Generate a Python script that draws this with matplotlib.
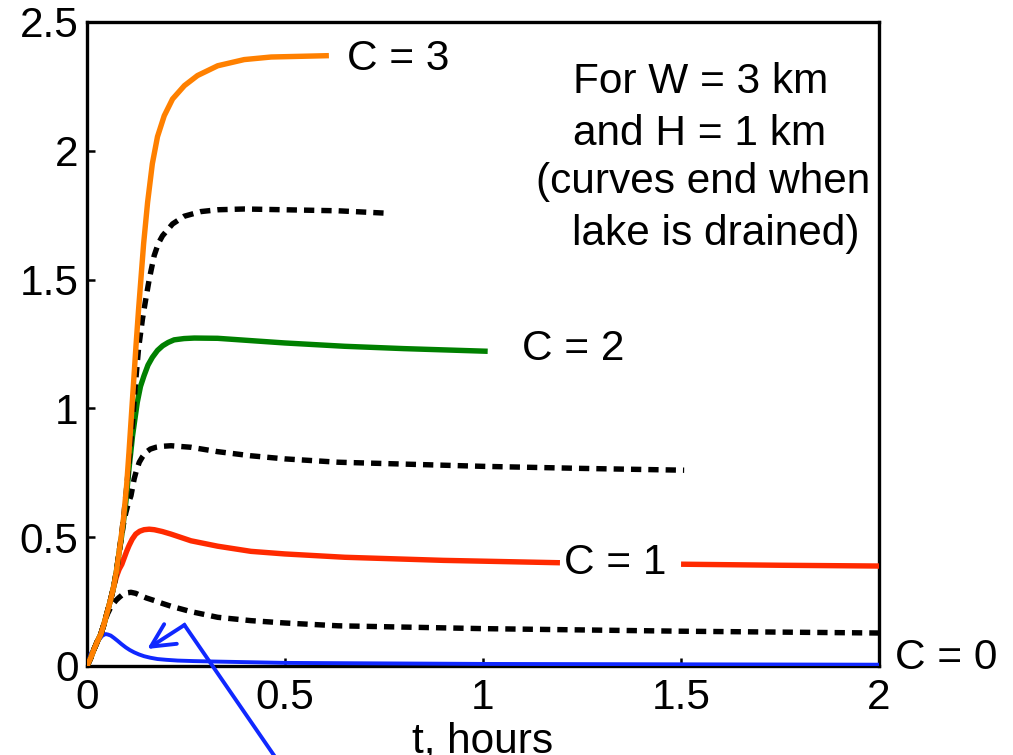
import numpy as np
from matplotlib import pyplot as plt

plt.rcParams['font.family'] = ['Liberation Sans', 'DejaVu Sans']

# C = 3 (orange)
t_c3 = [0, 0.009, 0.018, 0.026, 0.035, 0.043, 0.051, 0.06, 0.068, 0.075, 0.081, 0.087, 0.092, 0.096, 0.100, 0.106, 0.112,
        0.118, 0.124, 0.130, 0.136, 0.143, 0.153, 0.165, 0.178, 0.195, 0.216, 0.246, 0.279, 0.33, 0.397, 0.465, 0.604]
v_c3 = [0, 0.03, 0.066, 0.095, 0.124, 0.163, 0.208, 0.26, 0.312, 0.375, 0.441, 0.51, 0.571, 0.635, 0.70, 0.83, 0.97,
        1.11, 1.25, 1.38, 1.50, 1.64, 1.80, 1.95, 2.055, 2.136, 2.201, 2.253, 2.292, 2.330, 2.354, 2.364, 2.369]

# dashed between C = 3 and C = 2
t_d25 = [0, 0.009, 0.018, 0.026, 0.035, 0.043, 0.051, 0.06, 0.068, 0.075, 0.081, 0.087, 0.092, 0.100, 0.107, 0.115,
         0.122, 0.130, 0.140, 0.1485, 0.157, 0.1696, 0.18, 0.1907, 0.216, 0.2456, 0.2878, 0.33, 0.397, 0.5, 0.634, 0.752]
v_d25 = [0, 0.03, 0.066, 0.095, 0.124, 0.163, 0.208, 0.26, 0.312, 0.375, 0.441, 0.51, 0.571, 0.69, 0.81, 0.95,
         1.09, 1.23, 1.347, 1.425, 1.50, 1.593, 1.64, 1.670, 1.716, 1.746, 1.764, 1.771, 1.774, 1.771, 1.767, 1.758]

# C = 2 (green)
t_c2 = [0, 0.009, 0.018, 0.026, 0.035, 0.043, 0.051, 0.06, 0.068, 0.075, 0.081, 0.087, 0.092, 0.098, 0.106, 0.115,
        0.127, 0.135, 0.144, 0.154, 0.165, 0.178, 0.191, 0.205, 0.220, 0.245, 0.271, 0.33, 0.414, 0.499, 0.651, 0.8, 1.005]
v_c2 = [0, 0.03, 0.066, 0.095, 0.124, 0.163, 0.208, 0.26, 0.312, 0.375, 0.441, 0.50, 0.56, 0.635, 0.765, 0.894,
        1.024, 1.085, 1.127, 1.168, 1.198, 1.225, 1.243, 1.256, 1.266, 1.271, 1.273, 1.272, 1.263, 1.254, 1.241, 1.232, 1.222]

# dashed between C = 2 and C = 1
t_d15 = [0, 0.009, 0.018, 0.026, 0.035, 0.043, 0.051, 0.06, 0.068, 0.075, 0.081, 0.087, 0.092, 0.098, 0.104, 0.111,
         0.119, 0.125, 0.132, 0.14, 0.1485, 0.16, 0.174, 0.192, 0.212, 0.2625, 0.33, 0.414, 0.499, 0.634, 1.0, 1.25, 1.508]
v_d15 = [0, 0.03, 0.066, 0.095, 0.124, 0.163, 0.208, 0.26, 0.312, 0.375, 0.441, 0.50, 0.55, 0.595, 0.63, 0.661,
         0.726, 0.76, 0.791, 0.812, 0.829, 0.842, 0.849, 0.853, 0.855, 0.849, 0.832, 0.816, 0.804, 0.791, 0.775, 0.767, 0.76]

# C = 1 (red), broken where the label sits
t_c1 = [0, 0.009, 0.018, 0.026, 0.035, 0.043, 0.051, 0.06, 0.068, 0.075, 0.081, 0.088, 0.094, 0.1, 0.106, 0.114,
        0.123, 0.133, 0.144, 0.157, 0.170, 0.19, 0.212, 0.2625, 0.33, 0.414, 0.499, 0.651, 0.9, 1.1875,
        1.19, 1.505, 1.507, 1.75, 2.0]
v_c1 = [0, 0.03, 0.066, 0.095, 0.124, 0.163, 0.208, 0.26, 0.312, 0.35, 0.375, 0.395, 0.42, 0.445, 0.467, 0.492,
        0.512, 0.523, 0.529, 0.531, 0.529, 0.522, 0.512, 0.486, 0.465, 0.445, 0.435, 0.422, 0.41, 0.401,
        np.nan, np.nan, 0.395, 0.391, 0.388]

# dashed between C = 1 and C = 0
t_d05 = [0, 0.009, 0.018, 0.026, 0.035, 0.043, 0.051, 0.059, 0.067, 0.074, 0.081, 0.088, 0.094, 0.102, 0.111, 0.123,
         0.136, 0.150, 0.170, 0.19, 0.212, 0.2625, 0.33, 0.414, 0.499, 0.634, 1.0, 1.5, 2.0]
v_d05 = [0, 0.03, 0.066, 0.095, 0.124, 0.163, 0.2, 0.225, 0.243, 0.256, 0.266, 0.275, 0.28, 0.284, 0.286, 0.282,
         0.273, 0.264, 0.254, 0.243, 0.232, 0.211, 0.189, 0.176, 0.167, 0.156, 0.145, 0.135, 0.128]

# C = 0 (blue)
t_c0 = [0, 0.009, 0.018, 0.026, 0.033, 0.039, 0.047, 0.053, 0.060, 0.068, 0.077, 0.087, 0.098, 0.108, 0.119, 0.131,
        0.144, 0.16, 0.178, 0.2, 0.229, 0.27, 0.33, 0.5, 1.0, 2.0]
v_c0 = [0, 0.047, 0.07, 0.092, 0.107, 0.118, 0.124, 0.122, 0.118, 0.109, 0.098, 0.085, 0.072, 0.062, 0.053, 0.045,
        0.038, 0.032, 0.027, 0.024, 0.021, 0.019, 0.017, 0.012, 0.008, 0.005]

fs = 30.5
blue = '#1028ff'
dash = (0, (1.9, 1.3))

fig = plt.figure(figsize=(10.13, 7.55), dpi=100)
ax = fig.add_axes([0.0859, 0.1179, 0.7818, 0.8530])

ax.plot(t_c0, v_c0, color=blue, lw=2.8, zorder=3)
ax.plot(t_d05, v_d05, color='black', lw=3.9, ls=dash, zorder=3)
ax.plot(t_c1, v_c1, color='#ff2a00', lw=3.9, zorder=3)
ax.plot(t_d15, v_d15, color='black', lw=3.9, ls=dash, zorder=3)
ax.plot(t_c2, v_c2, color='#008000', lw=3.9, zorder=3)
ax.plot(t_d25, v_d25, color='black', lw=3.9, ls=dash, zorder=3)
ax.plot(t_c3, v_c3, color='#ff8000', lw=3.9, zorder=4)

ax.text(0.785, 2.314, 'C = 3', fontsize=fs, ha='center', va='baseline')
ax.text(1.228, 1.187, 'C = 2', fontsize=fs, ha='center', va='baseline')
ax.text(1.335, 0.357, 'C = 1', fontsize=fs, ha='center', va='baseline')
ax.text(2.17, -0.012, 'C = 0', fontsize=fs, ha='center', va='baseline', clip_on=False)

ax.text(1.549, 2.225, 'For W = 3 km', fontsize=fs, ha='center', va='baseline')
ax.text(1.547, 2.023, 'and H = 1 km', fontsize=fs, ha='center', va='baseline')
ax.text(1.556, 1.837, '(curves end when', fontsize=fs, ha='center', va='baseline')
ax.text(1.589, 1.636, 'lake is drained)', fontsize=fs, ha='center', va='baseline')

# blue pointer coming up from below the axes
ax.plot([0.478, 0.246], [-0.36, 0.159], color=blue, lw=2.8, clip_on=False, zorder=5)
ax.annotate('', xy=(0.152, 0.066), xytext=(0.246, 0.159),
            arrowprops=dict(arrowstyle='->', color=blue, lw=2.8,
                            mutation_scale=42, shrinkA=0, shrinkB=0),
            zorder=5)

ax.set_xlim(0, 2)
ax.set_ylim(0, 2.5)
ax.set_xticks([0, 0.5, 1, 1.5, 2])
ax.set_xticklabels(['0', '0.5', '1', '1.5', '2'])
ax.set_yticks([0, 0.5, 1, 1.5, 2, 2.5])
ax.set_yticklabels(['0', '0.5', '1', '1.5', '2', '2.5'])
ax.tick_params(direction='in', length=6, width=1.8, labelsize=fs, top=False, right=False)
ax.tick_params(axis='x', pad=9)
ax.tick_params(axis='y', pad=6)
for s in ax.spines.values():
    s.set_linewidth(2.4)

ax.set_xlabel('t, hours', fontsize=fs, labelpad=2)

fig.savefig('out.png', dpi=100)
